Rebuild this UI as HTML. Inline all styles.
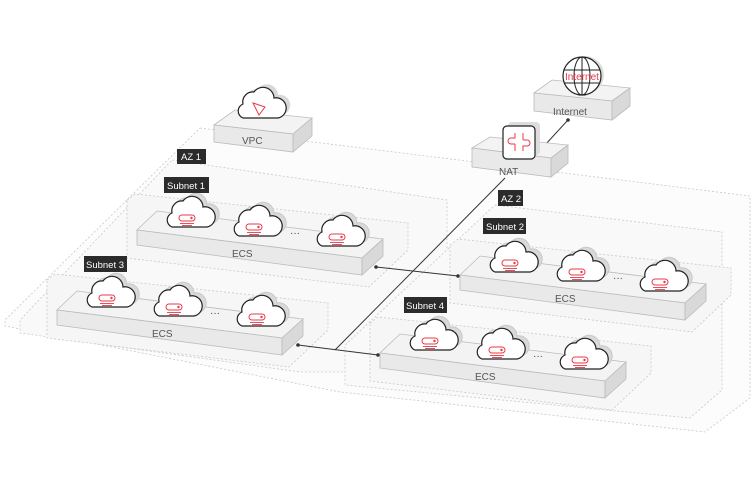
<!DOCTYPE html>
<html><head><meta charset="utf-8"><style>
html,body{margin:0;padding:0;background:#fff;}
svg{display:block;font-family:"Liberation Sans",sans-serif;}
.lab{fill:#fff;font-size:9.5px;}
.el{fill:#555;font-size:10px;}
</style></head><body>
<svg width="756" height="487" viewBox="0 0 756 487" xmlns="http://www.w3.org/2000/svg">
<defs>
<g id="cloud">
  <path d="M-15,9 a7.5,7.5 0 0 1 0,-14 a10,10 0 0 1 11,-12 a11,11 0 0 1 20,6 a8.5,8.5 0 0 1 4,20 z" transform="translate(4,-3)" fill="#d9d9d9" stroke="#c8c8c8" stroke-width="1"/>
  <path d="M-15,9 a7.5,7.5 0 0 1 0,-14 a10,10 0 0 1 11,-12 a11,11 0 0 1 20,6 a8.5,8.5 0 0 1 4,20 z" fill="#fff" stroke="#222" stroke-width="1.2"/>
  <rect x="-8" y="-3" width="16" height="6" rx="3" fill="none" stroke="#e83a4a" stroke-width="1"/>
  <circle cx="4.5" cy="0" r="1.2" fill="#e83a4a"/>
  <line x1="-7" y1="5.5" x2="7" y2="5.5" stroke="#e83a4a" stroke-width="0.9"/>
  <line x1="-5" y1="7.5" x2="5" y2="7.5" stroke="#e83a4a" stroke-width="0.9"/>
</g>
<g id="slab">
  <polygon points="0,0 20,-19 246,9 225,28" fill="#f3f3f3" stroke="#bbb" stroke-width="0.8"/>
  <polygon points="0,0 225,28 225,45 0,15" fill="#e9e9e9" stroke="#bbb" stroke-width="0.8"/>
  <polygon points="225,28 246,9 246,26 225,45" fill="#d9d9d9" stroke="#bbb" stroke-width="0.8"/>
  <use href="#cloud" x="50" y="-12"/>
  <use href="#cloud" x="117" y="-3"/>
  <text x="153" y="6" fill="#444" font-size="10">···</text>
  <use href="#cloud" x="200" y="7"/>
  <text class="el" x="95" y="27">ECS</text>
</g>
<g id="subnet">
  <polygon points="-10,-30 -2,-36 271,-7 271,20 232,57 -10,28" fill="#f6f6f6" stroke="#c8c8c8" stroke-width="0.8" stroke-dasharray="2,2"/>
</g>
</defs>

<!-- VPC outer -->
<polygon points="200,128 750,196 750,398 705,432 340,392 5,326 5,320" fill="#fcfcfc" stroke="#c8c8c8" stroke-width="0.8" stroke-dasharray="2,2"/>
<!-- AZ1 -->
<polygon points="172,160 447,200 447,300 420,372 300,372 20,333 20,320" fill="#f9f9f9" stroke="#c8c8c8" stroke-width="0.8" stroke-dasharray="2,2"/>
<!-- AZ2 -->
<polygon points="495,205 722,232 722,390 690,418 345,385 345,345" fill="#f9f9f9" stroke="#c8c8c8" stroke-width="0.8" stroke-dasharray="2,2"/>

<use href="#subnet" x="137" y="230"/>
<use href="#subnet" x="57" y="310"/>
<use href="#subnet" x="460" y="275"/>
<use href="#subnet" x="380" y="353"/>

<!-- connector lines -->
<line x1="505" y1="178" x2="335" y2="350" stroke="#333" stroke-width="1"/>
<line x1="376" y1="267" x2="458" y2="276" stroke="#333" stroke-width="1"/>
<circle cx="376" cy="267" r="1.8" fill="#333"/><circle cx="458" cy="276" r="1.8" fill="#333"/>
<line x1="298" y1="345" x2="378" y2="355" stroke="#333" stroke-width="1"/>
<circle cx="298" cy="345" r="1.8" fill="#333"/><circle cx="378" cy="355" r="1.8" fill="#333"/>
<line x1="568" y1="120" x2="545" y2="145" stroke="#333" stroke-width="1"/>
<circle cx="568" cy="120" r="1.8" fill="#333"/><circle cx="545" cy="145" r="1.8" fill="#333"/>

<use href="#slab" x="137" y="230"/>
<use href="#slab" x="57" y="310"/>
<use href="#slab" x="460" y="275"/>
<use href="#slab" x="380" y="353"/>

<!-- labels -->
<rect x="177" y="149" width="29" height="15" fill="#2b2b2b"/><text class="lab" x="181" y="160">AZ 1</text>
<rect x="164" y="177" width="45" height="16" fill="#2b2b2b"/><text class="lab" x="167" y="189">Subnet 1</text>
<rect x="84" y="256" width="43" height="16" fill="#2b2b2b"/><text class="lab" x="86" y="268">Subnet 3</text>
<rect x="498" y="190" width="25" height="16" fill="#2b2b2b"/><text class="lab" x="501" y="202">AZ 2</text>
<rect x="483" y="218" width="43" height="16" fill="#2b2b2b"/><text class="lab" x="486" y="230">Subnet 2</text>
<rect x="404" y="297" width="43" height="16" fill="#2b2b2b"/><text class="lab" x="406" y="309">Subnet 4</text>

<!-- VPC box -->
<polygon points="214,125 235,110 312,118 293,134" fill="#f3f3f3" stroke="#bbb" stroke-width="0.8"/>
<polygon points="214,125 293,134 293,152 214,142" fill="#e9e9e9" stroke="#bbb" stroke-width="0.8"/>
<polygon points="293,134 312,118 312,136 293,152" fill="#d9d9d9" stroke="#bbb" stroke-width="0.8"/>
<g transform="translate(258,109)">
  <path d="M-15,9 a7.5,7.5 0 0 1 0,-14 a10,10 0 0 1 11,-12 a11,11 0 0 1 20,6 a8.5,8.5 0 0 1 4,20 z" transform="translate(4,-3)" fill="#d9d9d9"/>
  <path d="M-15,9 a7.5,7.5 0 0 1 0,-14 a10,10 0 0 1 11,-12 a11,11 0 0 1 20,6 a8.5,8.5 0 0 1 4,20 z" fill="#fff" stroke="#222" stroke-width="1.2"/>
  <polygon points="-5,-6 7,-2 1,6" fill="none" stroke="#e83a4a" stroke-width="1"/>
</g>
<text class="el" x="242" y="144">VPC</text>

<!-- NAT box -->
<polygon points="472,148 490,137 568,145 551,158" fill="#f3f3f3" stroke="#bbb" stroke-width="0.8"/>
<polygon points="472,148 551,158 551,177 472,167" fill="#e9e9e9" stroke="#bbb" stroke-width="0.8"/>
<polygon points="551,158 568,145 568,163 551,177" fill="#d9d9d9" stroke="#bbb" stroke-width="0.8"/>
<rect x="508" y="122" width="32" height="33" rx="4" fill="#ddd"/>
<rect x="503" y="126" width="32" height="33" rx="4" fill="#fff" stroke="#222" stroke-width="1.2"/>
<path d="M515,133 v5 h-4 a3,3 0 0 0 0,6 h4 M523,151 v-5 h4 a3,3 0 0 0 0,-6 h-4 M523,133 v7 M515,151 v-7" fill="none" stroke="#e83a4a" stroke-width="1"/>
<text class="el" x="499" y="175">NAT</text>

<!-- Internet box -->
<polygon points="534,93 552,80 630,88 612,101" fill="#f3f3f3" stroke="#bbb" stroke-width="0.8"/>
<polygon points="534,93 612,101 612,120 534,111" fill="#e9e9e9" stroke="#bbb" stroke-width="0.8"/>
<polygon points="612,101 630,88 630,106 612,120" fill="#d9d9d9" stroke="#bbb" stroke-width="0.8"/>
<circle cx="585" cy="75" r="19" fill="#ddd"/>
<circle cx="582" cy="76" r="19" fill="#fff" stroke="#222" stroke-width="1.2"/>
<ellipse cx="582" cy="76" rx="8" ry="19" fill="none" stroke="#222" stroke-width="1"/>
<line x1="582" y1="57" x2="582" y2="95" stroke="#222" stroke-width="1"/>
<line x1="564" y1="70" x2="600" y2="70" stroke="#222" stroke-width="1"/>
<line x1="564" y1="83" x2="600" y2="83" stroke="#222" stroke-width="1"/>
<text x="565" y="80" fill="#e83a4a" font-size="10">Internet</text>
<text class="el" x="553" y="115">Internet</text>
</svg>
</body></html>
